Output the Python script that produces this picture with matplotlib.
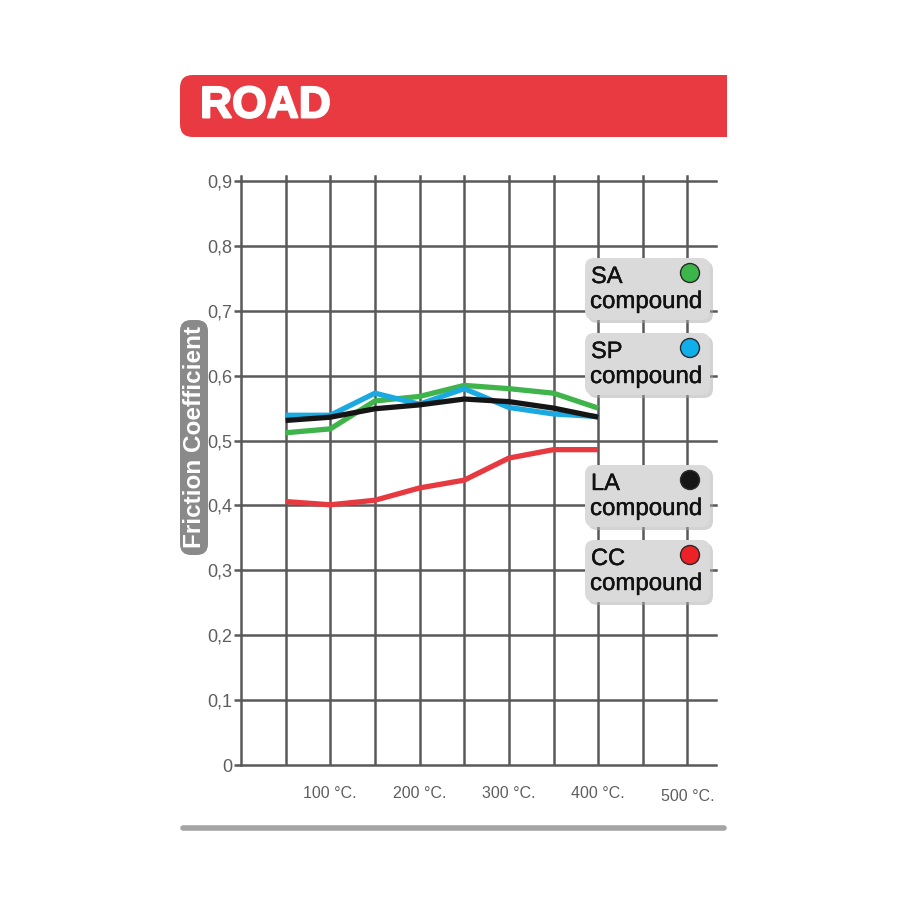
import matplotlib
matplotlib.use("Agg")
import matplotlib.pyplot as plt
import matplotlib.patheffects as pe
from matplotlib.patches import FancyBboxPatch, Rectangle, Circle
from matplotlib.lines import Line2D

# temperature points (deg C) and friction coefficients
temps = [50, 100, 150, 200, 250, 300, 350, 400]
sa_vals = [0.512, 0.518, 0.561, 0.568, 0.585, 0.580, 0.573, 0.550]
sp_vals = [0.539, 0.539, 0.573, 0.556, 0.580, 0.551, 0.541, 0.537]
la_vals = [0.531, 0.536, 0.549, 0.555, 0.564, 0.560, 0.550, 0.536]
cc_vals = [0.406, 0.401, 0.408, 0.427, 0.439, 0.473, 0.486, 0.486]

y_ticks = [0, 0.1, 0.2, 0.3, 0.4, 0.5, 0.6, 0.7, 0.8, 0.9]
y_labels = ["0", "0,1", "0,2", "0,3", "0,4", "0,5", "0,6", "0,7", "0,8", "0,9"]
x_grid = list(range(0, 550, 50))
x_label_pos = [100, 200, 300, 400, 500]
x_labels = ["100 °C.", "200 °C.", "300 °C.", "400 °C.", "500 °C."]

legend_names = ["SA", "SP", "LA", "CC"]
legend_colors = ["#3cb54a", "#10aeea", "#161616", "#ec2227"]
line_colors = ["#3fb44b", "#1ba9e1", "#151515", "#e73a40"]

W = 915.0
grid_col = "#595959"
fonts = ["Liberation Sans", "DejaVu Sans"]


def fx(px):
    return px / W


def fy(py):
    return 1 - py / W


fig = plt.figure(figsize=(9.15, 9.15), dpi=100)
fig.patch.set_facecolor("white")

ax = fig.add_axes([fx(241), fy(765), fx(716) - fx(241), fy(181) - fy(765)])
ax.set_xlim(0, 532)
ax.set_ylim(0, 0.9)

for s in ["top", "right"]:
    ax.spines[s].set_visible(False)
for s in ["left", "bottom"]:
    ax.spines[s].set_color(grid_col)
    ax.spines[s].set_linewidth(1.8)

for xv in x_grid[1:]:
    ax.axvline(xv, color=grid_col, lw=1.8, zorder=1)
for yv in y_ticks[1:]:
    ax.axhline(yv, color=grid_col, lw=1.8, zorder=1, clip_on=False)

# stubs above top gridline
for xv in x_grid:
    ax.plot([xv, xv], [0.9, 0.908], color=grid_col, lw=1.8, clip_on=False, zorder=1)

ax.set_yticks(y_ticks)
ax.set_yticklabels(y_labels)
ax.set_xticks(x_label_pos)
ax.set_xticklabels(x_labels)
ax.tick_params(axis="y", direction="out", length=5, width=1.8, color=grid_col,
               labelsize=13, labelcolor="#5e5e5e", pad=1.5)
ax.tick_params(axis="x", length=0, labelsize=11.5, labelcolor="#5e5e5e", pad=15)
for lab in ax.get_xticklabels() + ax.get_yticklabels():
    lab.set_fontfamily(fonts)
ax.get_xticklabels()[-1].set_y(-0.006)

series = [sa_vals, sp_vals, la_vals, cc_vals]
draw_order = [3, 0, 1, 2]
for i in draw_order:
    ax.plot(temps, series[i], color=line_colors[i], lw=3.8, zorder=3,
            solid_joinstyle="miter", solid_capstyle="butt")

# header band
hdr = FancyBboxPatch((fx(180), fy(137)), fx(727) - fx(180), fy(75) - fy(137),
                     boxstyle="round,pad=0,rounding_size=0.014",
                     transform=fig.transFigure, facecolor="#e93a41",
                     edgecolor="none", zorder=5)
fig.patches.append(hdr)
fig.patches.append(Rectangle((fx(690), fy(137)), fx(727) - fx(690), fy(75) - fy(137),
                             transform=fig.transFigure, facecolor="#e93a41",
                             edgecolor="none", zorder=5))
fig.text(fx(200), fy(106), "ROAD", color="white", fontsize=32, fontweight="bold",
         family=fonts, va="center", ha="left", zorder=6,
         path_effects=[pe.withStroke(linewidth=1.4, foreground="white")])

# y label box
ylb = FancyBboxPatch((fx(180), fy(555)), fx(208) - fx(180), fy(320) - fy(555),
                     boxstyle="round,pad=0,rounding_size=0.012",
                     transform=fig.transFigure, facecolor="#8a8a8a",
                     edgecolor="none", zorder=5)
fig.patches.append(ylb)
fig.text(fx(194.5), fy(437), "Friction Coefficient", color="white", fontsize=17.5,
         fontweight="bold", rotation=90, family=fonts,
         va="center", ha="center", zorder=6)

# legend boxes
box_tops = [258, 333, 465, 540]
for name, col, top in zip(legend_names, legend_colors, box_tops):
    shadow = FancyBboxPatch((fx(588), fy(top + 65)), fx(713) - fx(588), fy(top) - fy(top + 62),
                            boxstyle="round,pad=0,rounding_size=0.01",
                            transform=fig.transFigure, facecolor="#a8a8a8",
                            edgecolor="none", alpha=0.5, zorder=7)
    fig.patches.append(shadow)
    box = FancyBboxPatch((fx(585), fy(top + 62)), fx(710) - fx(585), fy(top) - fy(top + 62),
                         boxstyle="round,pad=0,rounding_size=0.01",
                         transform=fig.transFigure, facecolor="#dadada",
                         edgecolor="none", zorder=8)
    fig.patches.append(box)
    stroke = [pe.withStroke(linewidth=0.3, foreground="#111111")]
    fig.text(fx(591), fy(top + 19), name, fontsize=17, color="#111111",
             family=fonts, va="center", ha="left", zorder=9, path_effects=stroke)
    fig.text(fx(590), fy(top + 44), "compound", fontsize=17.3, color="#111111",
             family=fonts, va="center", ha="left", zorder=9, path_effects=stroke)
    fig.patches.append(Circle((fx(690), fy(top + 15)), 9.5 / W, transform=fig.transFigure,
                              facecolor=col, edgecolor="#2a2a2a", lw=1.0, zorder=9))

# bottom rule
fig.lines.append(Line2D([fx(183), fx(724)], [fy(828), fy(828)], transform=fig.transFigure,
                        color="#a5a5a5", lw=4, solid_capstyle="round"))

fig.savefig("out.png", dpi=100, facecolor="white")
